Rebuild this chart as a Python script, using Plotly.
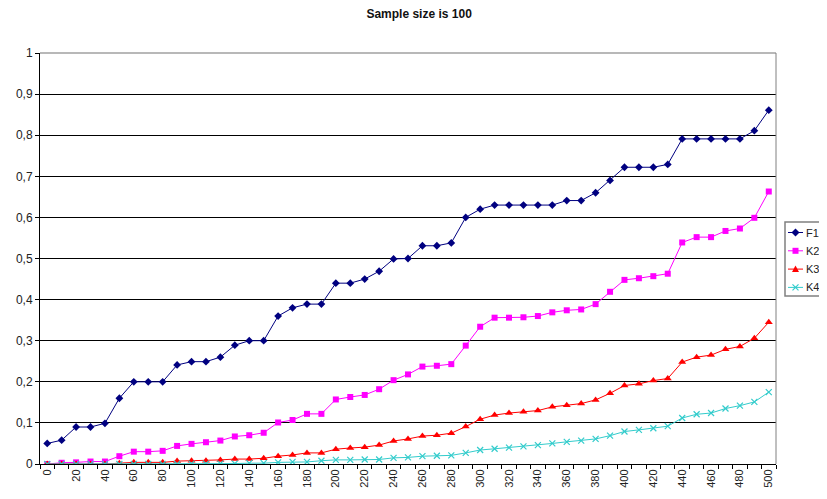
import plotly.graph_objects as go

sample_sizes = list(range(0, 501, 10))

f1 = [0.05, 0.058, 0.09, 0.09, 0.099, 0.16, 0.20, 0.20, 0.20, 0.241,
      0.249, 0.249, 0.26, 0.289, 0.30, 0.30, 0.36, 0.38, 0.389, 0.389,
      0.44, 0.44, 0.45, 0.469, 0.499, 0.50, 0.531, 0.531, 0.538, 0.60,
      0.62, 0.63, 0.63, 0.63, 0.63, 0.63, 0.641, 0.641, 0.66, 0.69,
      0.722, 0.722, 0.722, 0.729, 0.791, 0.791, 0.791, 0.791, 0.791, 0.811,
      0.861]
k2 = [0.0, 0.003, 0.004, 0.006, 0.006, 0.019, 0.03, 0.03, 0.032, 0.044,
      0.049, 0.053, 0.057, 0.067, 0.07, 0.076, 0.101, 0.107, 0.122, 0.122,
      0.157, 0.163, 0.168, 0.182, 0.204, 0.218, 0.237, 0.239, 0.243, 0.288,
      0.334, 0.356, 0.356, 0.357, 0.36, 0.369, 0.374, 0.376, 0.389, 0.419,
      0.448, 0.452, 0.457, 0.463, 0.539, 0.552, 0.552, 0.567, 0.573, 0.599,
      0.663]
k3 = [0.0, 0.0, 0.0, 0.0, 0.0, 0.002, 0.004, 0.004, 0.004, 0.007,
      0.008, 0.008, 0.01, 0.012, 0.012, 0.014, 0.019, 0.022, 0.027, 0.027,
      0.036, 0.039, 0.041, 0.046, 0.056, 0.061, 0.068, 0.07, 0.075, 0.091,
      0.109, 0.119, 0.124, 0.127, 0.13, 0.139, 0.143, 0.147, 0.156, 0.172,
      0.191, 0.195, 0.203, 0.208, 0.248, 0.26, 0.265, 0.279, 0.286, 0.306,
      0.345]
k4 = [0.0, 0.0, 0.0, 0.0, 0.0, 0.0, 0.0, 0.0, 0.0, 0.0,
      0.001, 0.001, 0.001, 0.001, 0.002, 0.002, 0.004, 0.005, 0.005, 0.008,
      0.01, 0.01, 0.011, 0.011, 0.015, 0.016, 0.019, 0.02, 0.021, 0.027,
      0.034, 0.037, 0.04, 0.043, 0.046, 0.05, 0.054, 0.057, 0.061, 0.069,
      0.079, 0.083, 0.087, 0.092, 0.112, 0.121, 0.124, 0.135, 0.142, 0.151,
      0.175]

series_names = ["F1", "K2", "K3", "K4"]
series_values = [f1, k2, k3, k4]
colors = ["#000080", "#FF00FF", "#FF0000", "#33CCCC"]
symbols = ["diamond", "square", "triangle-up", "x-thin"]
sizes = [6, 6, 7, 6]

y_tickvals = [i / 10 for i in range(11)]
y_ticktext = ["0", "0,1", "0,2", "0,3", "0,4", "0,5", "0,6", "0,7", "0,8", "0,9", "1"]
x_tickvals = list(range(0, 501, 20))

fig = go.Figure()
for name, vals, c, s, sz in zip(series_names, series_values, colors, symbols, sizes):
    marker = dict(symbol=s, size=sz, color=c)
    if s == "x-thin":
        marker["line"] = dict(color=c, width=1.2)
    else:
        marker["line"] = dict(width=0)
    fig.add_trace(go.Scatter(x=sample_sizes, y=vals, name=name, mode="lines+markers",
                             line=dict(color=c, width=1), marker=marker, showlegend=False))

# the page body adds an 8px margin on every side, so the figure is smaller
# and its margins are shifted to keep the plot area where the reference has it
W, H = 819, 483
ML, MR, MT, MB = 32, 51, 45, 27
PW, PH = W - ML - MR, H - MT - MB

fig.update_layout(
    width=W, height=H,
    paper_bgcolor="white", plot_bgcolor="white",
    margin=dict(l=ML, r=MR, t=MT, b=MB, autoexpand=False),
    font=dict(family="Arial, Liberation Sans, sans-serif", size=12, color="#222222"),
    title=dict(text="<b>Sample size is 100</b>", x=0.502, xanchor="center",
               y=1 - 6 / H, yanchor="middle", yref="container",
               font=dict(size=12, color="#111111")),
    showlegend=False,
)
fig.update_xaxes(range=[-5, 505], tickvals=x_tickvals, ticktext=[str(v) for v in x_tickvals],
                 tickangle=-90, tickfont=dict(size=11), ticks="", showgrid=False,
                 showline=True, linecolor="black", linewidth=1, zeroline=False, automargin=False,
                 minor=dict(tickvals=[v - 5 for v in range(0, 511, 10)], ticks="outside",
                            ticklen=4, tickcolor="black", showgrid=False))
fig.update_yaxes(range=[0, 1], tickvals=y_tickvals, ticktext=y_ticktext, ticks="outside",
                 ticklen=4, tickcolor="black", showgrid=True, gridcolor="#000000", gridwidth=1,
                 showline=True, linecolor="black", linewidth=1, zeroline=False, automargin=False,
                 tickfont=dict(size=12))
fig.add_shape(type="line", xref="paper", yref="paper", x0=0, x1=1, y0=1, y1=1,
              line=dict(color="#A0A0A0", width=1.5), layer="above")
fig.add_shape(type="line", xref="paper", yref="paper", x0=1, x1=1, y0=0, y1=1,
              line=dict(color="#808080", width=1), layer="above")


# Excel-style legend on the right edge
def px(page_x):
    return (page_x - 8 - ML) / PW


def py(page_y):
    return (H - MB - (page_y - 8)) / PH


marker_paths = {
    "diamond": ("M0,4 L4,0 L0,-4 L-4,0 Z", True),
    "square": ("M-3,-3 L3,-3 L3,3 L-3,3 Z", True),
    "triangle-up": ("M-3.5,-3 L3.5,-3 L0,3.5 Z", True),
    "x-thin": ("M-3,-3 L3,3 M-3,3 L3,-3", False),
}

fig.add_shape(type="rect", xref="paper", yref="paper",
              x0=px(785), x1=px(860), y0=py(296), y1=py(222),
              line=dict(color="#808080", width=1.5), fillcolor="white", layer="above")
for i, (name, c, s) in enumerate(zip(series_names, colors, symbols)):
    yy = py(232.5 + i * 18.3)
    fig.add_shape(type="line", xref="paper", yref="paper", x0=px(788), x1=px(803),
                  y0=yy, y1=yy, line=dict(color=c, width=1), layer="above")
    path, filled = marker_paths[s]
    fig.add_shape(type="path", xref="paper", yref="paper", xsizemode="pixel", ysizemode="pixel",
                  xanchor=px(795.5), yanchor=yy, path=path,
                  fillcolor=c if filled else "rgba(0,0,0,0)",
                  line=dict(color=c, width=1.2 if not filled else 0), layer="above")
    fig.add_annotation(text=name, xref="paper", yref="paper", x=px(805), y=yy,
                       xanchor="left", yanchor="middle", showarrow=False, borderpad=0,
                       font=dict(size=11, color="#222222"))

fig.write_html("out.html")
